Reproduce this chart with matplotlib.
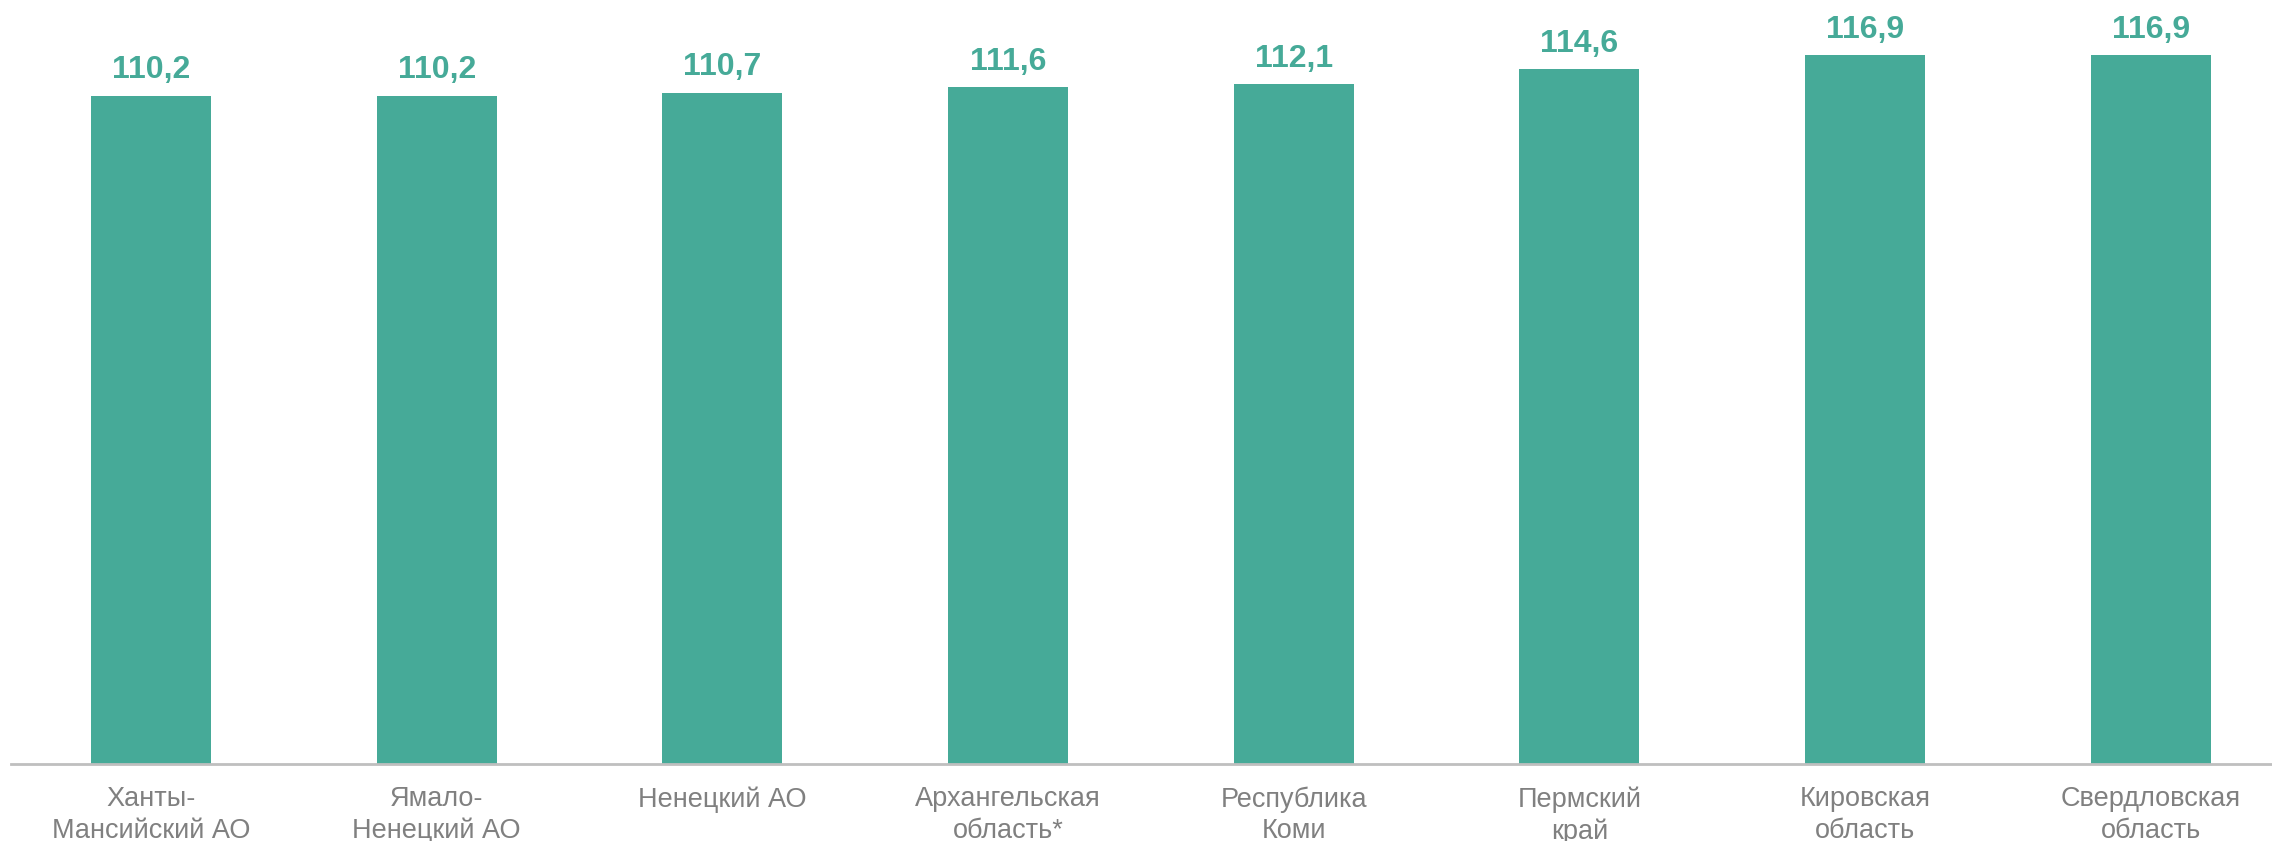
import matplotlib
matplotlib.use("Agg")
import matplotlib.pyplot as plt

categories = ["Ханты-\nМансийский АО", "Ямало-\nНенецкий АО", "Ненецкий АО",
              "Архангельская\nобласть*", "Республика\nКоми", "Пермский\nкрай",
              "Кировская\nобласть", "Свердловская\nобласть"]
values = [110.2, 110.2, 110.7, 111.6, 112.1, 114.6, 116.9, 116.9]
value_labels = ["110,2", "110,2", "110,7", "111,6", "112,1", "114,6", "116,9", "116,9"]

plt.rcParams['font.family'] = ['Liberation Sans', 'DejaVu Sans']

bar_color = "#46AA98"
W, H = 2272, 841
fig = plt.figure(figsize=(W / 100, H / 100), dpi=100)
ax = fig.add_axes([11 / W, 77 / H, 1 - 11 / W, 764 / H])

x = list(range(len(categories)))
ax.bar(x, values, width=0.42, color=bar_color, zorder=2)
for xi, v, lab in zip(x, values, value_labels):
    ax.annotate(lab, (xi, v), xytext=(0, 12.5), textcoords="offset points",
                ha="center", va="baseline", fontsize=23, fontweight="bold",
                color=bar_color)

ax.set_xlim(-0.49, 7.425)
ax.set_ylim(0, 126)
ax.set_xticks(x)
ax.set_xticklabels(categories, fontsize=19.5, color="#808080", linespacing=1.28)
ax.tick_params(axis="x", length=0, pad=16)
ax.set_yticks([])
for s in ["top", "right", "left"]:
    ax.spines[s].set_visible(False)
ax.spines["bottom"].set_color("#BFBFBF")
ax.spines["bottom"].set_linewidth(2)

fig.savefig("out.png", dpi=100)
